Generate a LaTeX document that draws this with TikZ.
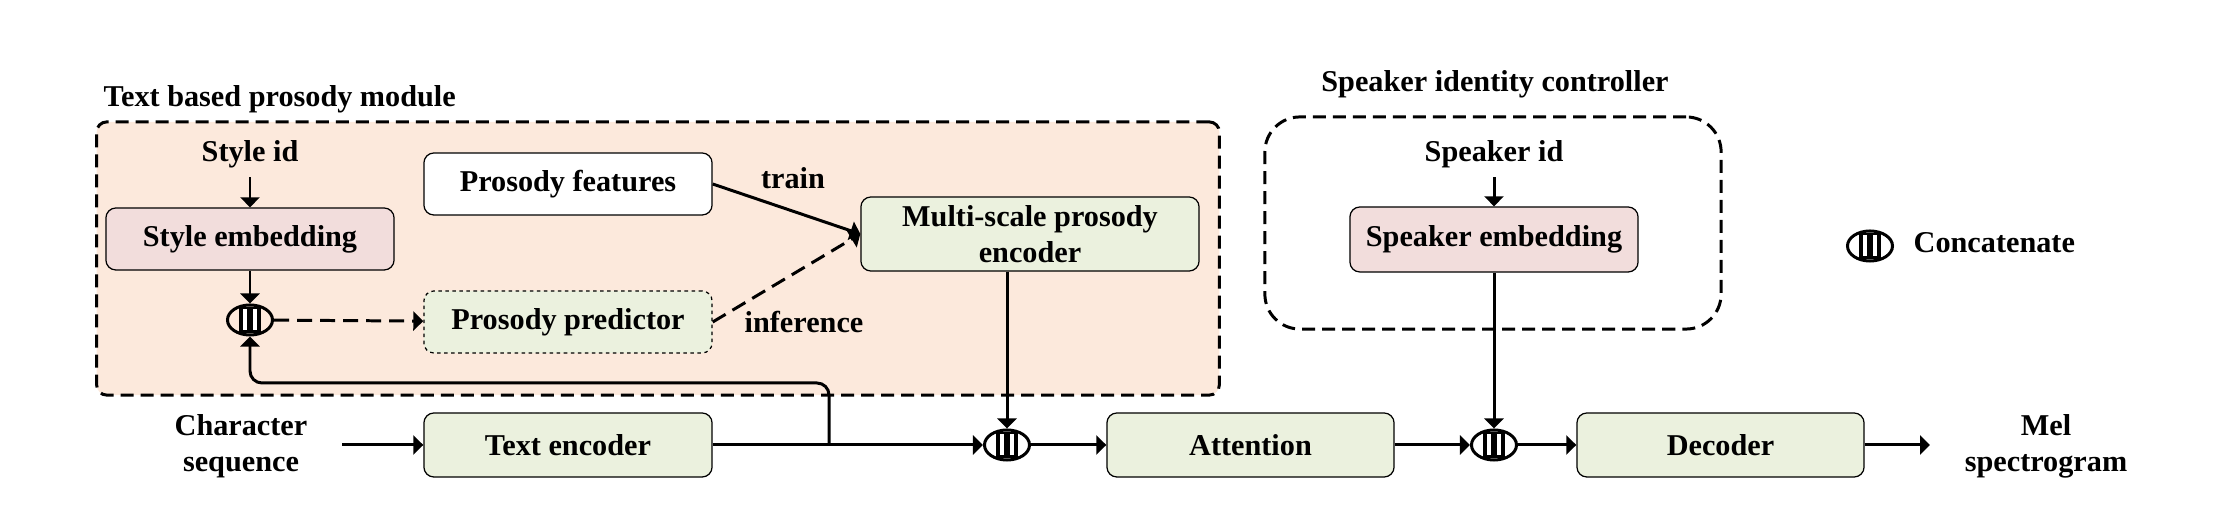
\documentclass[tikz,border=0pt]{standalone}
\usepackage{fontspec}
\setmainfont{Liberation Serif}
\usetikzlibrary{arrows.meta,shapes.geometric,calc}
\definecolor{peach}{RGB}{252,233,220}
\definecolor{pinkbox}{RGB}{242,221,220}
\definecolor{greenbox}{RGB}{235,241,222}
\begin{document}
\begin{tikzpicture}[x=0.01cm, y=-0.01cm,
  txt/.style={font=\fontsize{8.6}{10.3}\selectfont\bfseries, align=center},
  box/.style={txt, draw=black, line width=0.35pt, rounded corners=0.1cm, minimum width=2.88cm, minimum height=0.63cm, inner sep=0pt},
  lbl/.style={txt, inner sep=0.08cm},
  plain/.style={txt, inner sep=0pt},
  arr/.style={line width=0.85pt, -{Triangle[length=0.1cm,width=0.19cm]}},
  dasharr/.style={arr, dash pattern=on 0.15cm off 0.08cm},
  group/.style={line width=0.85pt, dash pattern=on 0.13cm off 0.07cm},
  cat/.style={ellipse, draw, line width=0.03cm, minimum width=0.45cm, minimum height=0.30cm, inner sep=0pt,
    path picture={
      \fill[black] ($(path picture bounding box.center)+(-0.11cm,-0.13cm)$) rectangle ++(0.22cm,0.26cm);
      \fill[white] ($(path picture bounding box.center)+(-0.07cm,-0.105cm)$) rectangle ++(0.04cm,0.21cm);
      \fill[white] ($(path picture bounding box.center)+(0.03cm,-0.105cm)$) rectangle ++(0.04cm,0.21cm);
    }}
]
\useasboundingbox (0,0) rectangle (2214,531);

% group boxes
\node[group, draw, fill=peach, rounded corners=0.1cm, minimum width=11.22cm, minimum height=2.73cm, inner sep=0pt] (tbox) at (658,258.5) {};
\node[group, draw, rounded corners=0.35cm, minimum width=4.56cm, minimum height=2.12cm, inner sep=0pt] (sbox) at (1493,223) {};

% titles
\node[plain, anchor=base west] (t1) at (103,107) {Text based prosody module};
\node[plain, anchor=base] (t2) at (1495,92) {Speaker identity controller};

% text based prosody module
\node[lbl, anchor=base] (sid) at (250,162) {Style id};
\node[box, fill=pinkbox, minimum height=0.62cm] (semb) at (250,239) {Style embedding};
\node[box, fill=white, minimum height=0.62cm] (pf) at (568,184) {Prosody features};
\node[box, fill=greenbox, minimum height=0.62cm, dash pattern=on 1pt off 1pt] (pp) at (568,322) {Prosody predictor};
\node[box, fill=greenbox, minimum width=3.38cm, minimum height=0.74cm] (ms) at (1030,234) {Multi-scale prosody\\encoder};
\node[cat] (c1) at (250,320) {};
\node[plain, anchor=base] (train) at (793,189) {train};
\node[plain, anchor=base] (inf) at (804,333) {inference};

% speaker identity controller
\node[lbl, anchor=base] (spid) at (1494,162) {Speaker id};
\node[box, fill=pinkbox, minimum height=0.65cm] (spe) at (1494,239.5) {Speaker embedding};

% legend
\node[cat] (cl) at (1870,246) {};
\node[plain, anchor=base west] (cc) at (1913,253) {Concatenate};

% main row
\node[plain] (cs) at (241,446) {Character\\sequence};
\node[box, fill=greenbox, minimum height=0.64cm] (te) at (568,445) {Text encoder};
\node[cat] (c2) at (1007,445) {};
\node[box, fill=greenbox, minimum width=2.87cm, minimum height=0.64cm] (att) at (1250.5,445) {Attention};
\node[cat] (c3) at (1494,445) {};
\node[box, fill=greenbox, minimum width=2.87cm, minimum height=0.64cm] (dec) at (1720.5,445) {Decoder};
\node[plain] (mel) at (2046,446) {Mel\\spectrogram};

\coordinate (in) at (342,445);
\coordinate (out) at (1930,445);
\coordinate (fb) at (829,445);
\coordinate (fbtop) at (829,383);

% connectors
\draw[arr] (sid.south) -- (semb.north);
\draw[arr] (semb) -- (c1);
\draw[dasharr] (c1) -- (pp);
\draw[arr] (pf.east) -- (ms.west);
\draw[dasharr] (pp.east) -- (ms.west);
\draw[arr] (in) -- (te);
\draw[arr] (te) -- (c2);
\draw[arr, rounded corners=0.12cm] (fb) -- (fbtop) -| (c1);
\draw[arr] (ms.south -| c2) -- (c2);
\draw[arr] (c2) -- (att);
\draw[arr] (spid.south) -- (spe.north);
\draw[arr] (spe) -- (c3);
\draw[arr] (att) -- (c3);
\draw[arr] (c3) -- (dec);
\draw[arr] (dec) -- (out);
\end{tikzpicture}
\end{document}
